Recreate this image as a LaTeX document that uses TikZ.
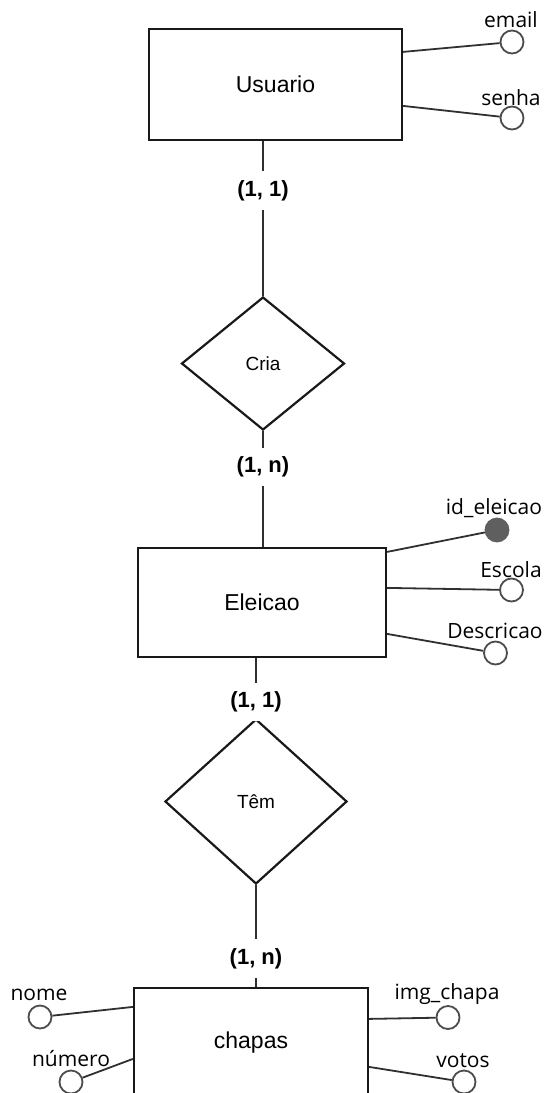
\documentclass[tikz,border=0pt]{standalone}
\usepackage{fontspec}
\setmainfont{Liberation Sans}
\newfontfamily\attrfont{Open Sans}
\usetikzlibrary{shapes.geometric}
\definecolor{keygray}{HTML}{5F5F5F}
\definecolor{edge}{HTML}{303030}
\tikzset{
  entity/.style   ={draw=black!90, line width=1.1pt, rectangle, inner sep=0pt, font=\fontsize{11.5}{13}\selectfont},
  relation/.style ={draw=black!90, line width=1.1pt, diamond, inner sep=0pt, font=\fontsize{9.5}{11}\selectfont},
  attr/.style     ={draw=black!70, line width=0.9pt, circle, fill=white, inner sep=0pt, minimum size=11.5pt},
  keyattr/.style  ={attr, draw=keygray, fill=keygray},
  attrname/.style ={inner sep=0pt, font=\attrfont\fontsize{10.5}{12}\selectfont},
  card/.style     ={fill=white, inner xsep=2pt, inner ysep=4.5pt, font=\bfseries\fontsize{11}{13}\selectfont},
  conn/.style     ={draw=edge, line width=0.9pt}
}
\begin{document}
\begin{tikzpicture}[x=0.5pt,y=-0.5pt]
  \useasboundingbox (0,0) rectangle (544,1093);
  \clip (0,0) rectangle (544,1093);

  \node[entity, minimum width=126.5pt, minimum height=55.5pt] (usuario) at (275.5,  84.5) {Usuario};
  \node[entity, minimum width=124pt,   minimum height=54.5pt] (eleicao) at (262,   602.5) {Eleicao};
  \node[entity, minimum width=117pt,   minimum height=55pt]   (chapas)  at (251,  1043)   {chapas};

  \node[relation, minimum width=81.5pt, minimum height=66.5pt] (cria) at (263, 363.5) {Cria};
  \node[relation, minimum width=91pt,   minimum height=82.5pt] (tem)  at (256, 801.5) {Têm};

  \node[attr]    (email)     at (512,  42)   {};
  \node[attr]    (senha)     at (512, 118)   {};
  \node[keyattr] (ideleicao) at (497, 530)   {};
  \node[attr]    (escola)    at (511.5, 590) {};
  \node[attr]    (descricao) at (495.5, 653) {};
  \node[attr]    (nome)      at ( 40, 1017)  {};
  \node[attr]    (numero)    at ( 71, 1082)  {};
  \node[attr]    (imgchapa)  at (448, 1017.5){};
  \node[attr]    (votos)     at (464, 1082)  {};

  \node[attrname] (email-t)     at (511,  20)  {email};
  \node[attrname] (senha-t)     at (511,  98)  {senha};
  \node[attrname] (ideleicao-t) at (494, 508)  {id\_eleicao};
  \node[attrname] (escola-t)    at (511, 570)  {Escola};
  \node[attrname] (descricao-t) at (495, 631)  {Descricao};
  \node[attrname] (nome-t)      at ( 39, 995)  {nome};
  \node[attrname] (numero-t)    at ( 71, 1059) {número};
  \node[attrname] (imgchapa-t)  at (447, 994)  {img\_chapa};
  \node[attrname] (votos-t)     at (463, 1061) {votos};

  \draw[conn] (cria.north |- usuario.south) -- (cria.north) node[card, pos=0.32] (c1) {(1, 1)};
  \draw[conn] (cria.south) -- (cria.south |- eleicao.north) node[card, pos=0.31] (c2) {(1, n)};
  \draw[conn] (tem.north |- eleicao.south) -- (tem.north) node[card, pos=0.73] (c3) {(1, 1)};
  \draw[conn] (tem.south) -- (tem.south |- chapas.north) node[card, pos=0.72] (c4) {(1, n)};

  \draw[conn] (usuario.north east) ++(0,24) -- (email);
  \draw[conn] (usuario.north east) ++(0,78) -- (senha);
  \draw[conn] (eleicao.north east) ++(0,5)  -- (ideleicao);
  \draw[conn] (eleicao.north east) ++(0,41) -- (escola);
  \draw[conn] (eleicao.north east) ++(0,87) -- (descricao);
  \draw[conn] (chapas.north west)  ++(0,20) -- (nome);
  \draw[conn] (chapas.north west)  ++(0,72) -- (numero);
  \draw[conn] (chapas.north east)  ++(0,32) -- (imgchapa);
  \draw[conn] (chapas.north east)  ++(0,80) -- (votos);
\end{tikzpicture}
\end{document}
